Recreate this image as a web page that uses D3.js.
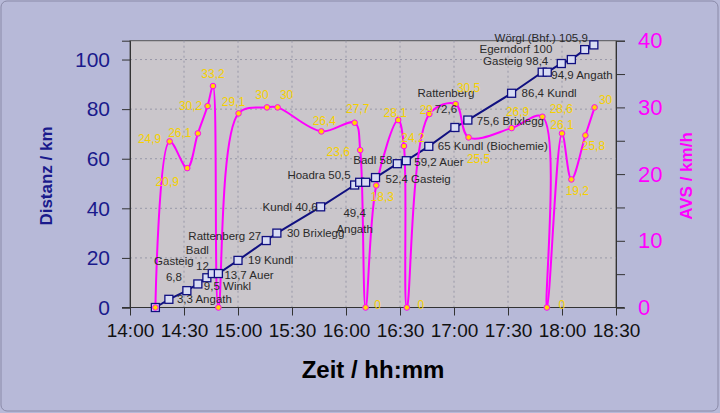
<!DOCTYPE html>
<html><head><meta charset="utf-8">
<script src="https://cdn.jsdelivr.net/npm/d3@7"></script>
<style>body{margin:0;background:#b7b9d8;font-family:"Liberation Sans",Arial,sans-serif}</style>
</head><body><svg id="c" width="720" height="413"></svg>
<script>
// ---- data ----
const distTimes = [14.1,21.6,31.6,37.7,42.7,45.7,49.1,60,75.7,81.6,105.9,124.8,127.6,130.9,136.4,148.5,153.5,166,180.5,187.7,212,229,231.8,239.6,245.2,252.6,257.7]; // minutes after 14:00
const distKm = [0,3.3,6.8,9.5,12,13.7,13.7,19,27,30,40.6,49.4,50.5,50.5,52.4,58,59.2,65,72.6,75.6,86.4,94.9,94.9,98.4,100,104,105.9];
const distLabels = ["","3,3 Angath","Gasteig|6,8","9,5 Winkl","Badl|12","","13,7 Auer","19 Kundl","Rattenberg 27","30 Brixlegg","Kundl 40,6","49,4|Angath","Hoadra 50,5","","52,4 Gasteig","Badl 58","59,2 Auer","65 Kundl (Biochemie)","Rattenberg|72,6","75,6 Brixlegg","86,4 Kundl","","94,9 Angath","Gasteig 98,4","Egerndorf 100","","Wörgl (Bhf.) 105,9"];
const speedTimes = [14.1,22,31.8,37.7,43.1,46.1,49.1,60.3,76.1,82,106.3,124.8,127.9,130.9,136.8,149,152.2,153.8,166.3,180.9,188.1,212,229.1,231.6,240,245.2,253,258.1];
const speedKmh = [0,24.9,20.9,26.1,30.2,33.2,0,29.1,30,30,26.4,27.7,23.6,0,18.3,28.1,24.2,0,29,30.5,25.5,26.9,28.6,0,26.1,19.2,25.8,30];
const speedShowLabel = [false,true,true,true,true,true,false,true,true,true,true,true,true,true,true,true,true,true,true,true,true,true,true,true,true,true,true,true];
const xTickLabels = ["14:00","14:30","15:00","15:30","16:00","16:30","17:00","17:30","18:00","18:30"];
const leftTicks = [0,20,40,60,80,100];
const rightTicks = [0,10,20,30,40];

// ---- layout (label offsets) ----
const distLab = [null,[8,4,"start"],[-13,-26,"middle"],[6,6,"start"],[2,-24,"end"],null,[6,5,"start"],[10,4,"start"],[-5,-1,"end"],[10,4,"start"],[-3,4,"end"],[0,32,"middle"],[-9,-3,"end"],null,[10,5,"start"],[-5,0,"end"],[8,5,"start"],[9,4,"start"],[-9,-30,"middle"],[9,5,"start"],[10,4,"start"],null,[4,7,"start"],[-13,1,"end"],[-19,-7,"end"],null,[-6,-3,"end"]];
const spLab = [null,[-20,2],[-20,18],[-18,4],[-17,4],[0,-8],null,[-5,-7],[-5,-8],[9,-8],[3,-6],[3,-10],[-22,6],[12,1],[6,16],[-3,-3],[9,-4],[14,1],[-3,0],[13,-12],[10,26],[6,-12],[19,-4],[15,1],[0,-4],[6,16],[8,15],[11,-3]];

const svg = d3.select("#c");
svg.append("rect").attr("x",1).attr("y",1).attr("width",717).attr("height",410).attr("rx",6)
  .attr("fill","#b7b9d8").attr("stroke","#8a8aa8");
const L=130,R=616,T=40.7,B=307.5;
const x = d3.scaleLinear().domain([0,270]).range([L,R]);
const yL = d3.scaleLinear().domain([0,107.6]).range([B,T]);
const yR = d3.scaleLinear().domain([0,40]).range([B,T]);

svg.append("rect").attr("x",L).attr("y",T).attr("width",R-L).attr("height",B-T).attr("fill","#cac6cb").attr("stroke","#555").attr("stroke-width",1);
const g = svg.append("g");
leftTicks.slice(1).forEach(v=>g.append("line").attr("x1",L).attr("x2",R).attr("y1",yL(v)).attr("y2",yL(v)).attr("stroke","#9898a8").attr("stroke-dasharray","2,3"));
xTickLabels.slice(1,-1).forEach((t,i)=>g.append("line").attr("x1",x((i+1)*30)).attr("x2",x((i+1)*30)).attr("y1",T).attr("y2",B).attr("stroke","#9898a8").attr("stroke-dasharray","2,3"));

const xa = svg.append("g").attr("transform",`translate(0,${B})`)
  .call(d3.axisBottom(x).tickValues(xTickLabels.map((d,i)=>i*30)).tickFormat((d,i)=>xTickLabels[i]).tickSize(8).tickPadding(8));
xa.select(".domain").attr("d",`M${L-8},0H${R+8}`).attr("stroke","#333");
xa.selectAll("text").attr("font-size",19).attr("fill","#111");
const la = svg.append("g").attr("transform",`translate(${L},0)`).call(d3.axisLeft(yL).tickValues(leftTicks).tickSize(8).tickPadding(12));
la.select(".domain").attr("stroke","#333");
la.selectAll("text").attr("font-size",21).attr("fill","#1a1a8c");
const ra = svg.append("g").attr("transform",`translate(${R},0)`).call(d3.axisRight(yR).tickValues(d3.range(0,41,5)).tickSize(9).tickPadding(13).tickFormat(d=>rightTicks.includes(d)?d:""));
ra.select(".domain").attr("stroke","#333");
ra.selectAll("text").attr("font-size",22).attr("fill","#f0f");
svg.selectAll(".tick line").attr("stroke","#333");

svg.append("text").attr("transform","translate(52,176) rotate(-90)").attr("text-anchor","middle").attr("font-weight","bold").attr("font-size",17).attr("fill","#1a1a8c").text("Distanz / km");
svg.append("text").attr("transform","translate(692,176) rotate(-90)").attr("text-anchor","middle").attr("font-weight","bold").attr("font-size",17).attr("fill","#f0f").text("AVS / km/h");
svg.append("text").attr("x",373).attr("y",378).attr("text-anchor","middle").attr("font-weight","bold").attr("font-size",24).attr("fill","#000").text("Zeit / hh:mm");

const dpts = distTimes.map((t,i)=>[x(t),yL(distKm[i])]);
svg.append("path").attr("d",d3.line()(dpts)).attr("fill","none").attr("stroke","#101080").attr("stroke-width",2);
const spts = speedTimes.map((t,i)=>[x(t),yR(speedKmh[i])]);
svg.append("path").attr("d",d3.line().curve(d3.curveCatmullRom.alpha(0.5))(spts)).attr("fill","none").attr("stroke","#ff00ff").attr("stroke-width",2);

svg.selectAll(".sq").data(dpts).enter().append("rect").attr("x",d=>d[0]-4).attr("y",d=>d[1]-4).attr("width",8).attr("height",8)
  .attr("fill","#d8dcf4").attr("stroke","#101080").attr("stroke-width",1.3);
svg.selectAll(".dot").data(spts).enter().append("circle").attr("cx",d=>d[0]).attr("cy",d=>d[1]).attr("r",2.8)
  .attr("fill","#ffd800").attr("stroke","#ff00ff").attr("stroke-width",1);

dpts.forEach((p,i)=>{
  const o=distLab[i]; if(!o||!distLabels[i]) return;
  distLabels[i].split("|").forEach((s,k)=>svg.append("text").attr("x",p[0]+o[0]).attr("y",p[1]+o[1]+k*16).attr("text-anchor",o[2])
    .attr("font-size",11.5).attr("fill","#2a2a2a").text(s));
});
spts.forEach((p,i)=>{
  const o=spLab[i]; if(!o||!speedShowLabel[i]) return;
  svg.append("text").attr("x",p[0]+o[0]).attr("y",p[1]+o[1]).attr("text-anchor","middle").attr("font-size",12)
    .attr("fill","#f5d000").text(String(speedKmh[i]).replace(".",","));
});
</script></body></html>
